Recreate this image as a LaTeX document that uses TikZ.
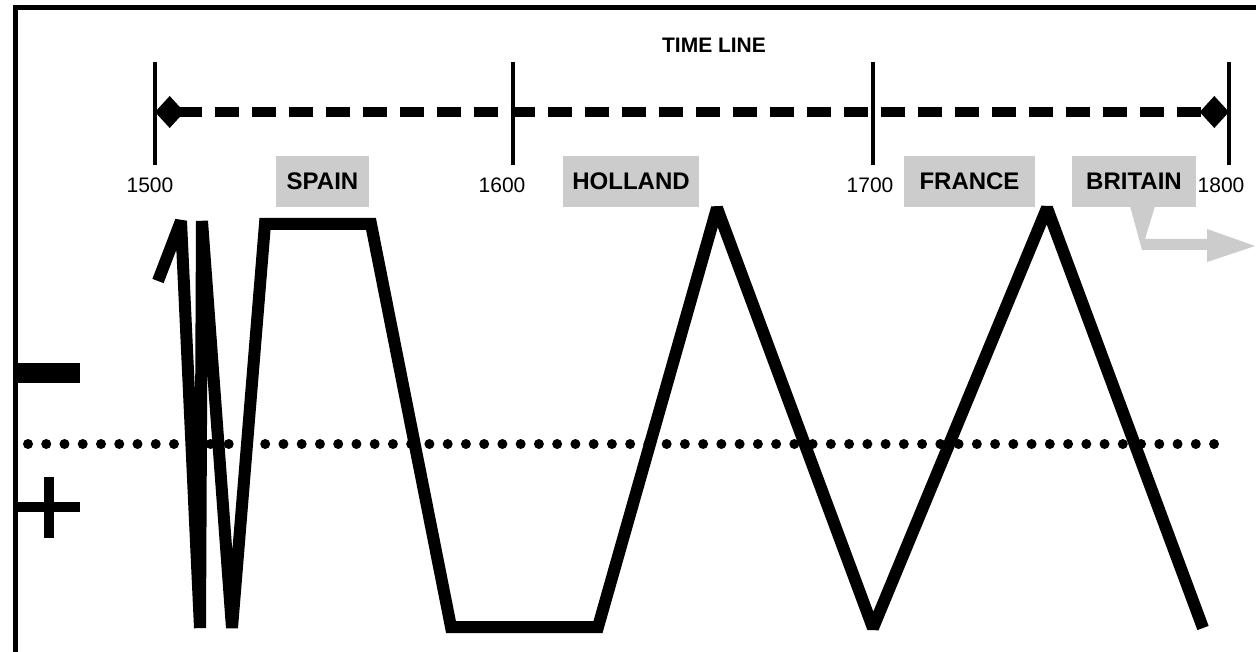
\documentclass[tikz,border=0pt]{standalone}
\usepackage{fontspec}
\setmainfont{Liberation Sans}
\usetikzlibrary{arrows.meta}
\definecolor{boxgray}{RGB}{204,204,204}
\tikzset{every picture/.style={line width=0.75pt}}
\tikzset{
  yearlabel/.style={inner sep=0.75pt, font=\fontsize{15.75}{18}\selectfont},
  countrybox/.style={fill=boxgray, inner sep=0pt, minimum height=38.25pt, font=\fontsize{18}{21}\selectfont\bfseries},
  tickline/.style={line width=3pt},
  swing/.style={line width=9pt, line join=miter, miter limit=2}
}
\begin{document}
\begin{tikzpicture}[x=0.75pt,y=0.75pt,yscale=-1,xscale=1]
\useasboundingbox (0,0) rectangle (1256,652);

%Frame
\draw [line width=3.75pt] (15,652) -- (15,7.5) -- (1256,7.5) ;

%Time line ticks
\coordinate (t1500) at (155,112);
\coordinate (t1600) at (513,112);
\coordinate (t1700) at (873,112);
\coordinate (t1800) at (1229,112);
\foreach \x in {155,513,873,1229}
  \draw [tickline] (\x,62) -- (\x,165) ;
%Time line
\draw [line width=7.5pt, dash pattern=on 18pt off 9.75pt, {Diamond[length=22pt,width=24pt]}-{Diamond[length=22pt,width=24pt]}] (t1500) -- (t1800) ;

% Text Node
\node [font=\fontsize{15.75}{18}\selectfont\bfseries] (title) at (714,45) {TIME LINE};
% Text Node
\node [yearlabel] (y1500) at (150,185) {1500};
\node [yearlabel] (y1600) at (502,185) {1600};
\node [yearlabel] (y1700) at (870,185) {1700};
\node [yearlabel] (y1800) at (1221,185) {1800};

%Country boxes
\node [countrybox, minimum width=69.75pt] (spain) at (322.5,181.5) {SPAIN};
\node [countrybox, minimum width=102pt] (holland) at (631,181.5) {HOLLAND};
\node [countrybox, minimum width=98.25pt] (france) at (969.5,181.5) {FRANCE};
\node [countrybox, minimum width=93pt] (britain) at (1134,181.5) {BRITAIN};
%Shape: Callout arrow
\fill [boxgray] (1130,206) -- (1155,206) -- (1145,239) -- (1207,239) -- (1207,229) -- (1255,246) -- (1207,262) -- (1207,250) -- (1142,250) -- cycle ;

%Dotted middle line
\coordinate (dotL) at (28,444);
\coordinate (dotR) at (1215,444);
\draw [line width=7.5pt, line cap=round, dash pattern=on 0pt off 13.685pt] (dotL) -- (dotR) ;

%Minus and plus
\fill (15,363) rectangle (80,383) ;
\fill (15,502) rectangle (80,512) ;
\fill (44,477) rectangle (54,538) ;

%Swing line
\draw [swing] (158,281) -- (181,221) -- (200,628) -- (202,221) -- (232,628) -- (265,224) -- (371,224) -- (451,627) -- (598,627) -- (717,208) -- (873,628) -- (1047,208) -- (1203,628) ;

\end{tikzpicture}
\end{document}
